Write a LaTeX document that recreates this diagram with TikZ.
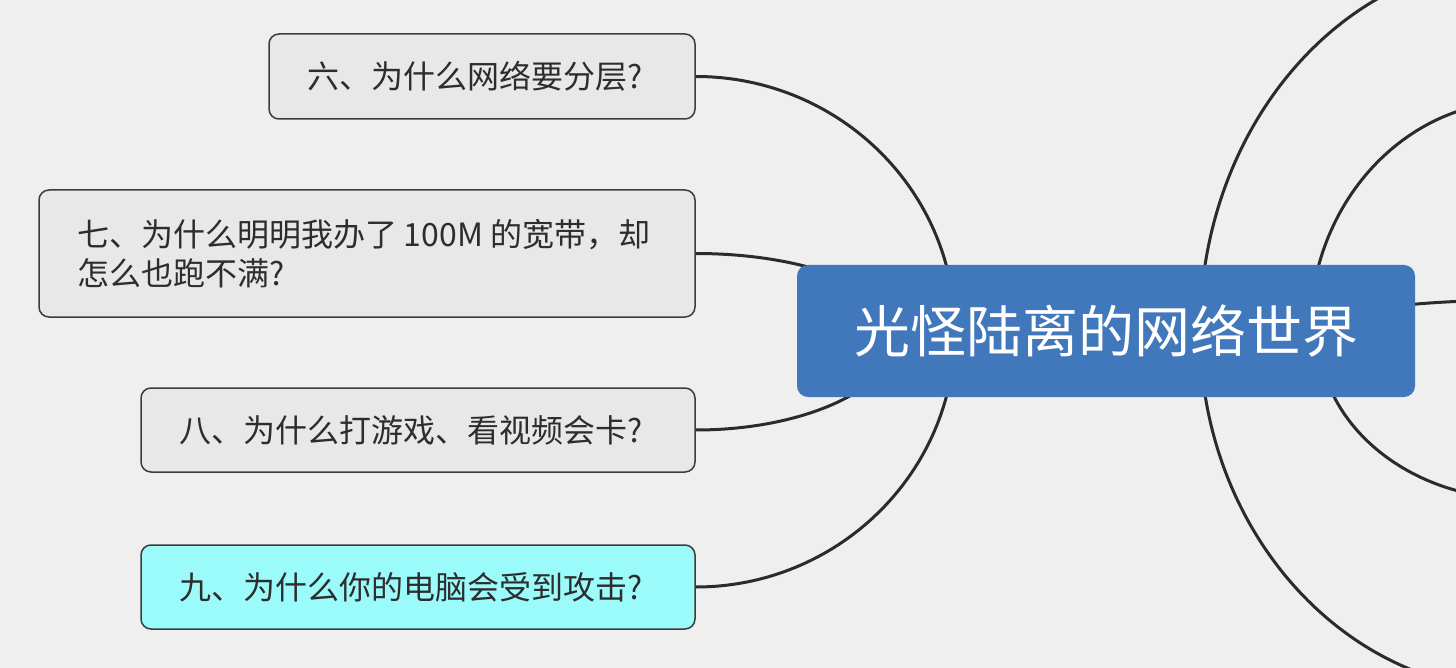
\documentclass[tikz,border=0pt]{standalone}
\usepackage{fontspec}
\newfontfamily\cjk{Noto Sans CJK SC}
\definecolor{bgc}{RGB}{239,239,239}
\definecolor{rootc}{RGB}{65,120,188}
\definecolor{boxc}{RGB}{232,232,232}
\definecolor{cyanc}{RGB}{155,251,251}
\definecolor{edgec}{RGB}{60,60,60}
\definecolor{linec}{RGB}{43,43,43}
\definecolor{txtc}{RGB}{45,45,45}
\tikzset{
  topicbox/.style={draw=edgec, line width=1.5pt, fill=boxc, rounded corners=10pt,
    inner sep=0pt, text=txtc, font=\cjk\fontsize{32}{39}\selectfont, align=left},
  rootbox/.style={fill=rootc, rounded corners=11pt, inner sep=0pt, text=white,
    font=\cjk\fontsize{56}{60}\selectfont, minimum width=618pt, minimum height=132pt},
  conn/.style={draw=linec, line width=3pt}
}
\begin{document}
\begin{tikzpicture}[x=1pt,y=-1pt]
\fill[bgc] (0,0) rectangle (1456,668);
\useasboundingbox (0,0) rectangle (1456,668);
\clip (0,0) rectangle (1456,668);

% child topics
\node[topicbox, minimum width=426pt, minimum height=85pt, text width=350pt] (c6) at (482,76.5) {六、为什么网络要分层?};
\node[topicbox, minimum width=656pt, minimum height=127pt, text width=580pt] (c7) at (367,253.5) {七、为什么明明我办了\hspace{7pt}100M\hspace{7pt}的宽带，却\\怎么也跑不满?};
\node[topicbox, minimum width=554pt, minimum height=84pt, text width=478pt] (c8) at (418,430) {八、为什么打游戏、看视频会卡?};
\node[topicbox, fill=cyanc, minimum width=554pt, minimum height=84pt, text width=478pt] (c9) at (418,587) {九、为什么你的电脑会受到攻击?};

% root position (node drawn later, on top of the connectors)
\coordinate (rootc) at (1106,331);

% bend coordinates
\coordinate (s6) at (955,331);
\coordinate (s7) at (895,331);
\coordinate (s8) at (900,331);
\coordinate (s9) at (955,331);
\coordinate (sr1) at (1200,331);
\coordinate (sr2) at (1310,331);
\coordinate (sr3) at (1310,331);
\coordinate (sr4) at (1318,331);
\coordinate (sr5) at (1200,331);
% off-picture children
\coordinate (r1) at (1520,-40);
\coordinate (r2) at (1520,101);
\coordinate (r3) at (1520,300);
\coordinate (r4) at (1520,499);
\coordinate (r5) at (1520,691);

\draw[conn] (rootc) -- (s6) .. controls (955,190.2) and (838.6,76.5) .. (c6.east);
\draw[conn] (rootc) -- (s7) .. controls (895,288.2) and (805.5,253.5) .. (c7.east);
\draw[conn] (rootc) -- (s8) .. controls (900,385.7) and (808.2,430) .. (c8.east);
\draw[conn] (rootc) -- (s9) .. controls (955,472.4) and (838.6,587) .. (c9.east);
\draw[conn] (rootc) -- (sr1) .. controls (1200,126.1) and (1343.3,-40) .. (r1);
\draw[conn] (rootc) -- (sr2) .. controls (1310,204) and (1404,101) .. (r2);
\draw[conn] (rootc) -- (sr3) .. controls (1310,313.9) and (1404,300) .. (r3);
\draw[conn] (rootc) -- (sr4) .. controls (1318,423.8) and (1408.4,499) .. (r4);
\draw[conn] (rootc) -- (sr5) .. controls (1200,529.8) and (1343.3,691) .. (r5);

\node[rootbox] (root) at (rootc) {光怪陆离的网络世界};
\end{tikzpicture}
\end{document}
